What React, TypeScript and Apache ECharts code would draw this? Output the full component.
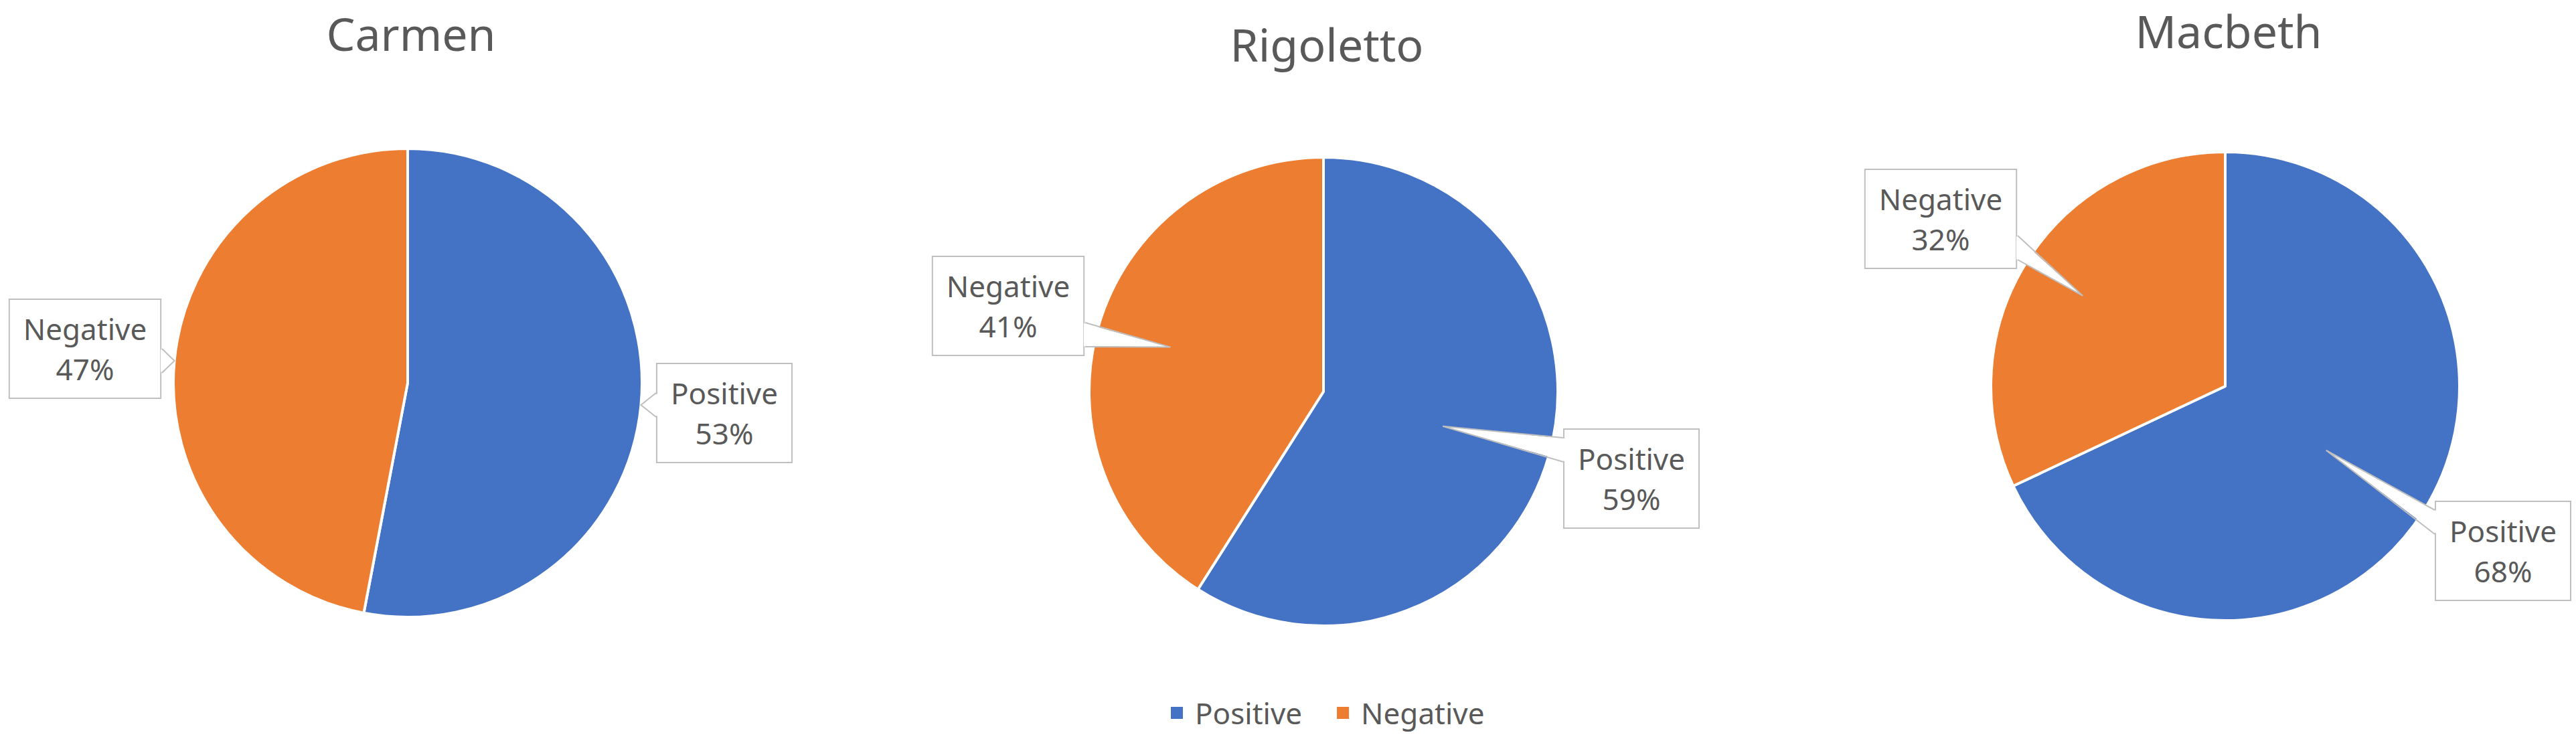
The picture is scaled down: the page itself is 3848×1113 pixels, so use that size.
import React, { useEffect, useRef } from 'react';
import * as echarts from 'echarts';

// ---- data ----
const operas = ['Carmen', 'Rigoletto', 'Macbeth'];
const sentiments = ['Positive', 'Negative'];
const carmenValues = [53, 47];
const rigolettoValues = [59, 41];
const macbethValues = [68, 32];
const seriesValues = [carmenValues, rigolettoValues, macbethValues];

// ---- layout / style ----
const FONT = 'Noto Sans';
const TEXT = '#595959';
const COLORS = ['#4472C4', '#ED7D31'];
const pieCenters = [[609, 572], [1977, 585], [3324, 577]];
const pieRadius = 350;
const titleTops = [10, 26, 6];
// label box centres per pie: [Positive, Negative]
const labelCenters = [
  [[1082, 617], [127, 521]],
  [[2437, 715], [1506, 457]],
  [[3739, 823], [2899, 327]],
];
const labelHalfW = [102, 115];
const labelHalfH = 73;
const tipFractions = [[1.0, 1.0], [0.53, 0.68], [0.51, 0.72]];

function wedges() {
  const els: any[] = [];
  seriesValues.forEach((vals, s) => {
    const total = vals.reduce((a, b) => a + b, 0);
    let acc = 0;
    vals.forEach((v, i) => {
      const mid = ((acc + v / 2) / total) * Math.PI * 2;
      acc += v;
      const r = pieRadius * tipFractions[s][i];
      const tx = pieCenters[s][0] + r * Math.sin(mid);
      const ty = pieCenters[s][1] - r * Math.cos(mid);
      const [cx, cy] = labelCenters[s][i];
      const hw = labelHalfW[i];
      const hh = labelHalfH;
      const bw = 18;
      let a: number[], b: number[], a2: number[], b2: number[];
      if (tx < cx - hw || tx > cx + hw) {
        const left = tx < cx - hw;
        const ex = left ? cx - hw : cx + hw;
        const inset = left ? 2 : -2;
        const by = Math.max(cy - hh + 30, Math.min(cy + hh - 30, ty));
        a = [ex, by - bw]; b = [ex, by + bw];
        a2 = [ex + inset, by - bw + 1]; b2 = [ex + inset, by + bw - 1];
      } else {
        const top = ty < cy;
        const ey = top ? cy - hh : cy + hh;
        const inset = top ? 2 : -2;
        const bx = Math.max(cx - hw + 30, Math.min(cx + hw - 30, tx));
        a = [bx - bw, ey]; b = [bx + bw, ey];
        a2 = [bx - bw + 1, ey + inset]; b2 = [bx + bw - 1, ey + inset];
      }
      els.push({
        type: 'polygon', z: 50,
        shape: { points: [a2, [tx, ty], b2] },
        style: { fill: '#ffffff', stroke: null },
      });
      els.push({
        type: 'polyline', z: 51,
        shape: { points: [a, [tx, ty], b] },
        style: { stroke: '#BFBFBF', lineWidth: 2, fill: null },
      });
    });
  });
  return els;
}

export default function App() {
  const ref = useRef<HTMLDivElement>(null);
  useEffect(() => {
    if (!ref.current) return;
    const chart = echarts.init(ref.current, null, { renderer: 'svg' });
    const option: any = {
      animation: false,
      backgroundColor: '#ffffff',
      color: COLORS,
      title: operas.map((name, s) => ({
        text: name,
        left: pieCenters[s][0],
        top: titleTops[s],
        textAlign: 'center',
        textStyle: { fontSize: 68, fontWeight: 'normal', color: TEXT, fontFamily: FONT },
      })),
      legend: {
        data: sentiments,
        left: 1742,
        top: 1038,
        icon: 'rect',
        itemWidth: 20,
        itemHeight: 20,
        itemGap: 50,
        textStyle: { fontSize: 44, color: TEXT, fontFamily: FONT, padding: [0, 0, 0, 12] },
      },
      graphic: { elements: wedges() },
      series: seriesValues.map((vals, s) => ({
        type: 'pie',
        name: operas[s],
        center: pieCenters[s],
        radius: pieRadius,
        startAngle: 90,
        clockwise: true,
        avoidLabelOverlap: false,
        percentPrecision: 0,
        itemStyle: { borderColor: '#ffffff', borderWidth: 4 },
        emphasis: { disabled: true },
        data: sentiments.map((n, i) => ({ name: n, value: vals[i] })),
        label: {
          show: true,
          position: 'outside',
          formatter: (p: any) => `${p.name}\n${p.percent}%`,
          fontSize: 44,
          lineHeight: 60,
          color: TEXT,
          fontFamily: FONT,
          backgroundColor: '#ffffff',
          borderColor: '#BFBFBF',
          borderWidth: 2,
          padding: [13, 20],
          align: 'center',
        },
        labelLine: { show: false },
        labelLayout: (p: any) => ({
          x: labelCenters[s][p.dataIndex][0],
          y: labelCenters[s][p.dataIndex][1],
          align: 'center',
          verticalAlign: 'middle',
        }),
      })),
    };
    chart.setOption(option);
    return () => chart.dispose();
  }, []);
  return (
    <div
      ref={ref}
      style={{ position: 'absolute', left: 0, top: 0, width: 3848, height: 1113, background: '#fff' }}
    />
  );
}
